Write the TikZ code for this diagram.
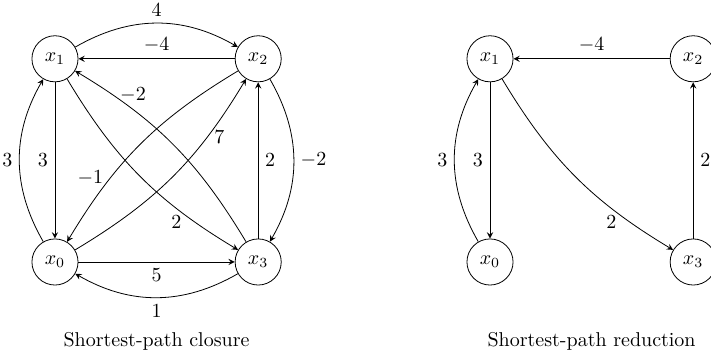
\documentclass[tikz,border=0pt]{standalone}
\usetikzlibrary{arrows}
\begin{document}
\begin{tikzpicture}[->, >=stealth, auto,
    vertex/.style={circle, draw, minimum size=0.81cm, inner sep=0pt}]
    \useasboundingbox (-0.966,-1.564) rectangle (11.526,4.603);

    % Closure graph
    \node[vertex] (c0) at (0, 0) {\(x_0\)};
    \node[vertex] (c1) at (0, 3.57) {\(x_1\)};
    \node[vertex] (c2) at (3.57, 3.57) {\(x_2\)};
    \node[vertex] (c3) at (3.57, 0) {\(x_3\)};

    % Outer edges
    \draw (c1) to[bend left=30] node {\(4\)} (c2);
    \draw (c2) -- node[swap] {\(-4\)} (c1);
    \draw (c0) to[bend left=30] node {\(3\)} (c1);
    \draw (c1) -- node[swap] {\(3\)} (c0);
    \draw (c2) to[bend left=30] node {\(-2\)} (c3);
    \draw (c3) -- node[swap] {\(2\)} (c2);
    \draw (c0) -- node[swap] {\(5\)} (c3);
    \draw (c3) to[bend left=30] node {\(1\)} (c0);

    % Diagonals
    \draw (c1) to[bend right=14] node[pos=0.71, below] {\(2\)} (c3);
    \draw (c3) to[bend right=14] node[pos=0.73, above] {\(-2\)} (c1);
    \draw (c0) to[bend right=14] node[pos=0.73, right] {\(7\)} (c2);
    \draw (c2) to[bend right=14] node[pos=0.7, left] {\(-1\)} (c0);

    \node at (1.785, -1.39) {Shortest-path closure};

    % Reduction graph
    \node[vertex] (r0) at (7.643, 0) {\(x_0\)};
    \node[vertex] (r1) at (7.643, 3.57) {\(x_1\)};
    \node[vertex] (r2) at (11.213, 3.57) {\(x_2\)};
    \node[vertex] (r3) at (11.213, 0) {\(x_3\)};

    \draw (r2) -- node[swap] {\(-4\)} (r1);
    \draw (r0) to[bend left=30] node {\(3\)} (r1);
    \draw (r1) -- node[swap] {\(3\)} (r0);
    \draw (r3) -- node[swap] {\(2\)} (r2);
    \draw (r1) to[bend right=14] node[pos=0.71, below] {\(2\)} (r3);

    \node at (9.428, -1.39) {Shortest-path reduction};
\end{tikzpicture}
\end{document}
